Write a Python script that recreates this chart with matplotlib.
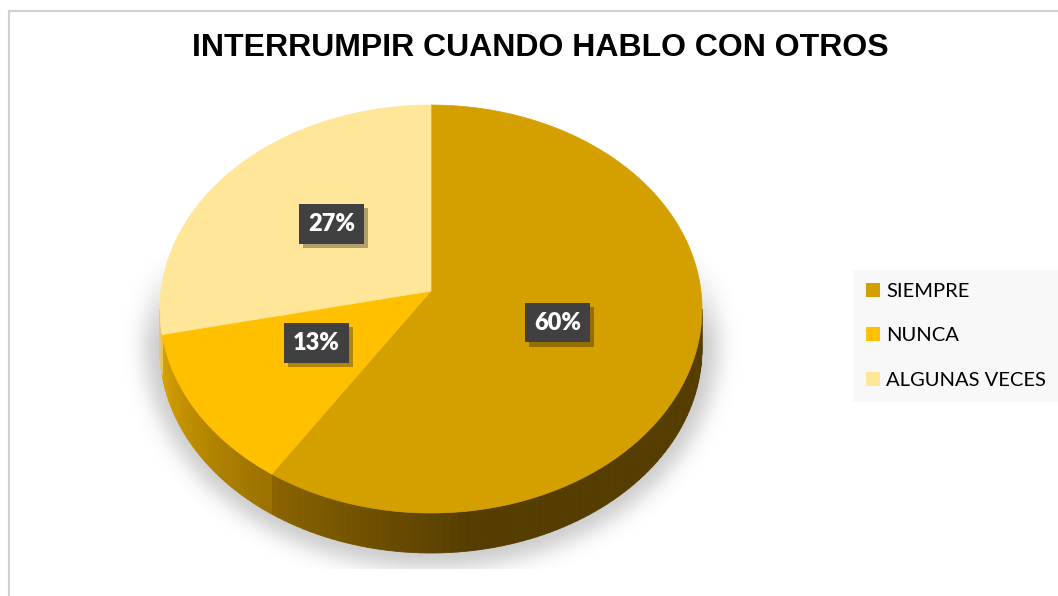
import numpy as np
import matplotlib as mpl
import matplotlib.pyplot as plt
import matplotlib.patheffects as pe
from matplotlib.patches import Polygon, Rectangle, Patch

# data
categories = ["SIEMPRE", "NUNCA", "ALGUNAS VECES"]
values = [60, 13, 27]
labels = ["60%", "13%", "27%"]
title = "INTERRUMPIR CUANDO HABLO CON OTROS"

top_colors = ["#D4A000", "#FFC000", "#FFE699"]
side_light = ["#8C6500", "#D9A400", "#E8C870"]
side_dark = ["#553D00", "#9C7200", "#C9A850"]

W, H = 1058, 596
cx, cy = 431, 309          # ellipse centre (pixels)
rx, ry = 271, 204          # ellipse radii
apex = (431, 291)          # perspective centre of the top face
depth = 40


def ell(a):
    a = np.radians(a)
    return cx + rx * np.cos(a), cy - ry * np.sin(a)


mpl.rcParams['font.family'] = ['Lato', 'DejaVu Sans']
fig = plt.figure(figsize=(W / 100, H / 100), dpi=100)
ax = fig.add_axes([0, 0, 1, 1])
ax.set_xlim(0, W)
ax.set_ylim(H, 0)
ax.axis('off')

# outer chart border
ax.add_patch(Rectangle((8.5, 10.5), W + 20, H + 20, fc='white', ec='#D0D0D0', lw=1.5, zorder=0))

# soft shadow below the pie
yy, xx = np.mgrid[0:H, 0:W]
mask = (((xx - cx) / 287.0) ** 2 + ((yy - 342) / 226.0) ** 2 <= 1).astype(float)
k = np.exp(-0.5 * (np.arange(-30, 31) / 10.0) ** 2)
k /= k.sum()
mask = np.apply_along_axis(lambda r: np.convolve(r, k, mode='same'), 1, mask)
mask = np.apply_along_axis(lambda c: np.convolve(c, k, mode='same'), 0, mask)
mask *= np.clip((yy - 250) / 90.0, 0, 1)
mask[yy > 568] = 0
rgba = np.zeros((H, W, 4))
rgba[..., :3] = 0.55
rgba[..., 3] = mask * 0.45
ax.imshow(rgba, extent=(0, W, H, 0), zorder=1, interpolation='bilinear')

# angles of each slice (clockwise from 12 o'clock)
fr = np.array(values) / np.sum(values)
starts = 90 - 360 * np.concatenate([[0], np.cumsum(fr)[:-1]])
ends = starts - 360 * fr

# side walls (visible lower half)
for i in range(len(values)):
    a0 = min(starts[i], 0)
    a1 = max(ends[i], -180)
    if a0 <= a1:
        continue
    angs = np.linspace(a0, a1, 80)
    c0 = np.array(mpl.colors.to_rgb(side_light[i]))
    c1 = np.array(mpl.colors.to_rgb(side_dark[i]))
    for j in range(len(angs) - 1):
        x0, y0 = ell(angs[j])
        x1, y1 = ell(angs[j + 1])
        # lighter near the slice's clockwise-most edge
        t = np.clip((angs[j] - a1) / 45.0, 0, 1)
        col = c0 * (1 - t) + c1 * t
        ax.add_patch(Polygon([[x0, y0], [x1, y1], [x1, y1 + depth], [x0, y0 + depth]],
                             closed=True, fc=col, ec=col, lw=0.6, zorder=2))

# top faces
for i in range(len(values)):
    angs = np.linspace(starts[i], ends[i], 200)
    pts = [apex] + [ell(a) for a in angs]
    ax.add_patch(Polygon(pts, closed=True, fc=top_colors[i], ec=top_colors[i], lw=0.5, zorder=3))

# data labels
for i in range(len(values)):
    mid = np.radians((starts[i] + ends[i]) / 2)
    lx = apex[0] + 0.49 * rx * np.cos(mid)
    ly = apex[1] - 0.5 * ry * np.sin(mid)
    t = ax.text(lx, ly, labels[i], ha='center', va='center', fontsize=17, fontweight='heavy',
                color='white', zorder=5,
                bbox=dict(boxstyle='square,pad=0.38', fc='#404040', ec='none'))
    t.get_bbox_patch().set_path_effects([pe.withSimplePatchShadow(offset=(3, -3), shadow_rgbFace='k', alpha=0.3)])

ax.text(540, 48, title, ha='center', va='center', fontsize=23, fontweight='bold',
        family='Liberation Sans', color='black')

handles = [Patch(fc=c, ec='none') for c in top_colors]
leg = ax.legend(handles, categories, loc='upper left', bbox_to_anchor=(853 / W, 1 - 270 / H),
                frameon=True, fontsize=14.5, handlelength=0.7, handleheight=0.7,
                handletextpad=0.3, labelspacing=1.35, borderpad=0.65, borderaxespad=0,
                fancybox=False)
leg.get_frame().set_facecolor('#F8F8F8')
leg.get_frame().set_edgecolor('none')
leg.get_frame().set_alpha(1)

fig.savefig('out.png', dpi=100)
